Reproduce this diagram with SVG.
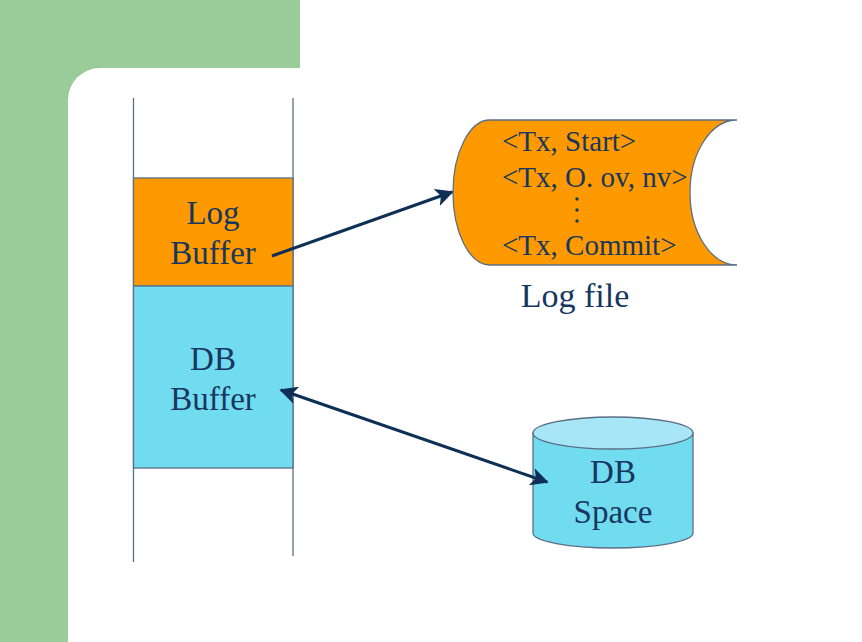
<svg xmlns="http://www.w3.org/2000/svg" width="862" height="642" viewBox="0 0 862 642">
<defs>
<style>
.t{font-family:"Liberation Serif","Times New Roman",serif;fill:#17375E;}
.box{stroke:#5B6E86;stroke-width:1.3;}
.conn{stroke:#0E2F56;stroke-width:3;fill:none;}
</style>
<marker id="ah" viewBox="0 0 10 10" refX="9" refY="5" markerWidth="6" markerHeight="6" orient="auto-start-reverse" markerUnits="strokeWidth">
<path d="M0,0 L10,5 L0,10 L2.5,5 Z" fill="#0E2F56"/>
</marker>
</defs>
<rect width="862" height="642" fill="#ffffff"/>
<rect x="0" y="0" width="300" height="120" fill="#9ACC9A"/>
<rect x="0" y="0" width="68" height="642" fill="#9ACC9A"/>
<rect x="68" y="68" width="900" height="700" rx="32" fill="#ffffff"/>

<g id="column">
<line x1="133.5" y1="98" x2="133.5" y2="562" stroke="#5B6E86" stroke-width="1.3"/>
<line x1="293" y1="98" x2="293" y2="556" stroke="#5B6E86" stroke-width="1.3"/>
</g>
<g id="log-buffer">
<rect class="box" x="133.5" y="178" width="159.5" height="108" fill="#FE9A00"/>
<text class="t" x="213" y="224" font-size="33" text-anchor="middle">Log</text>
<text class="t" x="213" y="264" font-size="33" text-anchor="middle">Buffer</text>
</g>
<g id="db-buffer">
<rect class="box" x="133.5" y="286" width="159.5" height="182" fill="#71DCF0"/>
<text class="t" x="213" y="370" font-size="33" text-anchor="middle">DB</text>
<text class="t" x="213" y="410" font-size="33" text-anchor="middle">Buffer</text>
</g>
<g id="log-file">
<path class="box" d="M490,120 L737,120 A47,72.5 0 0 0 737,265 L490,265 A37,72.5 0 0 1 490,120 Z" fill="#FE9A00"/>
<text class="t" x="502" y="151" font-size="29">&lt;Tx, Start&gt;</text>
<text class="t" x="502" y="187" font-size="29">&lt;Tx, O. ov, nv&gt;</text>
<circle cx="577" cy="199" r="1.7" fill="#17375E"/>
<circle cx="577" cy="210" r="1.7" fill="#17375E"/>
<circle cx="577" cy="221" r="1.7" fill="#17375E"/>
<text class="t" x="502" y="255" font-size="29">&lt;Tx, Commit&gt;</text>
<text class="t" x="575" y="307" font-size="34" text-anchor="middle">Log file</text>
</g>
<g id="db-space">
<path class="box" d="M533,433 L533,533 A80,15 0 0 0 693,533 L693,433 Z" fill="#71DCF0"/>
<ellipse class="box" cx="613" cy="433" rx="80" ry="16" fill="#A6E6F6"/>
<text class="t" x="613" y="483" font-size="33" text-anchor="middle">DB</text>
<text class="t" x="613" y="523" font-size="33" text-anchor="middle">Space</text>
</g>
<g id="connectors">
<line class="conn" x1="272" y1="256" x2="452" y2="192" marker-end="url(#ah)"/>
<line class="conn" x1="281" y1="390" x2="547" y2="482" marker-start="url(#ah)" marker-end="url(#ah)"/>
</g>
</svg>
